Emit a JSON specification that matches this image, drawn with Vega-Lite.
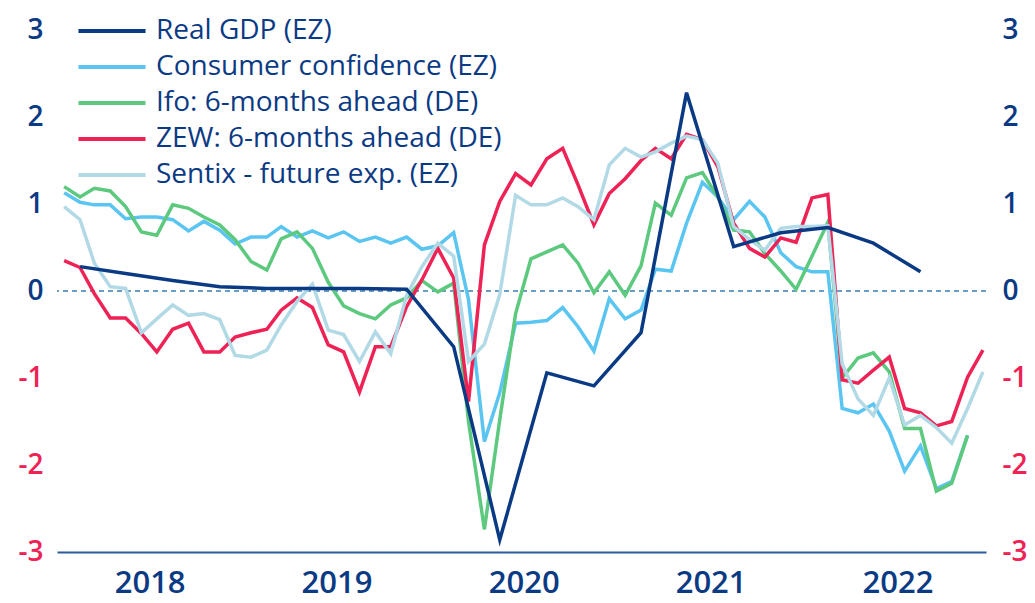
{
  "$schema": "https://vega.github.io/schema/vega-lite/v6.json",
  "width": 929,
  "height": 522,
  "autosize": "none",
  "padding": {"left": 57, "top": 30, "right": 49, "bottom": 51},
  "background": "white",
  "config": {"view": {"stroke": null}, "font": "Open Sans"},
  "data": {"values": [
    {"d": "2018-01-15", "cc": 1.13, "ifo": 1.20, "zew": 0.35, "sentix": 0.97},
    {"d": "2018-02-15", "gdp": 0.28, "cc": 1.02, "ifo": 1.08, "zew": 0.27, "sentix": 0.82},
    {"d": "2018-03-15", "cc": 0.99, "ifo": 1.18, "zew": -0.03, "sentix": 0.32},
    {"d": "2018-04-15", "cc": 0.99, "ifo": 1.15, "zew": -0.31, "sentix": 0.05},
    {"d": "2018-05-15", "gdp": 0.20, "cc": 0.83, "ifo": 0.97, "zew": -0.31, "sentix": 0.03},
    {"d": "2018-06-15", "cc": 0.85, "ifo": 0.68, "zew": -0.49, "sentix": -0.48},
    {"d": "2018-07-15", "cc": 0.85, "ifo": 0.64, "zew": -0.70, "sentix": -0.32},
    {"d": "2018-08-15", "gdp": 0.12, "cc": 0.82, "ifo": 0.99, "zew": -0.44, "sentix": -0.16},
    {"d": "2018-09-15", "cc": 0.69, "ifo": 0.95, "zew": -0.37, "sentix": -0.28},
    {"d": "2018-10-15", "cc": 0.80, "ifo": 0.85, "zew": -0.70, "sentix": -0.26},
    {"d": "2018-11-15", "gdp": 0.05, "cc": 0.70, "ifo": 0.76, "zew": -0.70, "sentix": -0.33},
    {"d": "2018-12-15", "cc": 0.54, "ifo": 0.59, "zew": -0.53, "sentix": -0.74},
    {"d": "2019-01-15", "cc": 0.62, "ifo": 0.34, "zew": -0.48, "sentix": -0.76},
    {"d": "2019-02-15", "gdp": 0.03, "cc": 0.62, "ifo": 0.24, "zew": -0.44, "sentix": -0.68},
    {"d": "2019-03-15", "cc": 0.74, "ifo": 0.60, "zew": -0.22, "sentix": -0.39},
    {"d": "2019-04-15", "cc": 0.62, "ifo": 0.68, "zew": -0.08, "sentix": -0.12},
    {"d": "2019-05-15", "gdp": 0.03, "cc": 0.69, "ifo": 0.49, "zew": -0.19, "sentix": 0.08},
    {"d": "2019-06-15", "cc": 0.61, "ifo": 0.10, "zew": -0.62, "sentix": -0.45},
    {"d": "2019-07-15", "cc": 0.68, "ifo": -0.17, "zew": -0.70, "sentix": -0.50},
    {"d": "2019-08-15", "gdp": 0.03, "cc": 0.57, "ifo": -0.26, "zew": -1.16, "sentix": -0.81},
    {"d": "2019-09-15", "cc": 0.62, "ifo": -0.32, "zew": -0.64, "sentix": -0.47},
    {"d": "2019-10-15", "cc": 0.55, "ifo": -0.16, "zew": -0.64, "sentix": -0.72},
    {"d": "2019-11-15", "gdp": 0.02, "cc": 0.62, "ifo": -0.08, "zew": -0.18, "sentix": -0.05},
    {"d": "2019-12-15", "cc": 0.48, "ifo": 0.12, "zew": 0.13, "sentix": 0.28},
    {"d": "2020-01-15", "cc": 0.52, "ifo": -0.01, "zew": 0.49, "sentix": 0.55},
    {"d": "2020-02-15", "gdp": -0.64, "cc": 0.67, "ifo": 0.09, "zew": 0.15, "sentix": 0.40},
    {"d": "2020-03-15", "cc": -0.10, "ifo": -1.50, "zew": -1.27, "sentix": -0.81},
    {"d": "2020-04-15", "cc": -1.73, "ifo": -2.74, "zew": 0.53, "sentix": -0.61},
    {"d": "2020-05-15", "gdp": -2.86, "cc": -1.17, "ifo": -1.48, "zew": 1.03, "sentix": -0.04},
    {"d": "2020-06-15", "cc": -0.37, "ifo": -0.26, "zew": 1.35, "sentix": 1.10},
    {"d": "2020-07-15", "cc": -0.36, "ifo": 0.37, "zew": 1.22, "sentix": 0.99},
    {"d": "2020-08-15", "gdp": -0.94, "cc": -0.34, "ifo": 0.45, "zew": 1.52, "sentix": 0.99},
    {"d": "2020-09-15", "cc": -0.19, "ifo": 0.53, "zew": 1.64, "sentix": 1.07},
    {"d": "2020-10-15", "cc": -0.41, "ifo": 0.32, "zew": 1.22, "sentix": 0.97},
    {"d": "2020-11-15", "gdp": -1.09, "cc": -0.69, "ifo": -0.02, "zew": 0.76, "sentix": 0.82},
    {"d": "2020-12-15", "cc": -0.09, "ifo": 0.22, "zew": 1.12, "sentix": 1.45},
    {"d": "2021-01-15", "cc": -0.32, "ifo": -0.05, "zew": 1.29, "sentix": 1.64},
    {"d": "2021-02-15", "gdp": -0.48, "cc": -0.22, "ifo": 0.29, "zew": 1.50, "sentix": 1.54},
    {"d": "2021-03-15", "cc": 0.25, "ifo": 1.01, "zew": 1.64, "sentix": 1.60},
    {"d": "2021-04-15", "cc": 0.23, "ifo": 0.87, "zew": 1.52, "sentix": 1.70},
    {"d": "2021-05-15", "gdp": 2.28, "cc": 0.78, "ifo": 1.30, "zew": 1.80, "sentix": 1.78},
    {"d": "2021-06-15", "cc": 1.25, "ifo": 1.36, "zew": 1.74, "sentix": 1.74},
    {"d": "2021-07-15", "cc": 1.08, "ifo": 1.08, "zew": 1.43, "sentix": 1.47},
    {"d": "2021-08-15", "gdp": 0.51, "cc": 0.82, "ifo": 0.70, "zew": 0.78, "sentix": 0.74},
    {"d": "2021-09-15", "cc": 1.03, "ifo": 0.68, "zew": 0.49, "sentix": 0.59},
    {"d": "2021-10-15", "cc": 0.85, "ifo": 0.43, "zew": 0.39, "sentix": 0.47},
    {"d": "2021-11-15", "gdp": 0.67, "cc": 0.44, "ifo": 0.23, "zew": 0.61, "sentix": 0.72},
    {"d": "2021-12-15", "cc": 0.28, "ifo": 0.02, "zew": 0.56, "sentix": 0.74},
    {"d": "2022-01-15", "cc": 0.22, "ifo": 0.40, "zew": 1.07, "sentix": 0.74},
    {"d": "2022-02-15", "gdp": 0.73, "cc": 0.22, "ifo": 0.79, "zew": 1.11, "sentix": 0.75},
    {"d": "2022-03-15", "cc": -1.35, "ifo": -1.00, "zew": -1.02, "sentix": -0.84},
    {"d": "2022-04-15", "cc": -1.40, "ifo": -0.77, "zew": -1.06, "sentix": -1.24},
    {"d": "2022-05-15", "gdp": 0.55, "cc": -1.30, "ifo": -0.71, "zew": -0.91, "sentix": -1.43},
    {"d": "2022-06-15", "cc": -1.61, "ifo": -0.93, "zew": -0.76, "sentix": -1.00},
    {"d": "2022-07-15", "cc": -2.07, "ifo": -1.58, "zew": -1.35, "sentix": -1.54},
    {"d": "2022-08-15", "gdp": 0.22, "cc": -1.78, "ifo": -1.58, "zew": -1.40, "sentix": -1.43},
    {"d": "2022-09-15", "cc": -2.27, "ifo": -2.30, "zew": -1.55, "sentix": -1.57},
    {"d": "2022-10-15", "cc": -2.19, "ifo": -2.21, "zew": -1.50, "sentix": -1.75},
    {"d": "2022-11-15", "cc": -1.66, "ifo": -1.66, "zew": -0.99, "sentix": -1.35},
    {"d": "2022-12-15", "zew": -0.68, "sentix": -0.93}
  ]},
  "layer": [
    {
      "data": {"values": [{"z": 0}]},
      "mark": {"type": "rule", "color": "#3A7DB0", "strokeWidth": 1.5, "strokeDash": [5, 4]},
      "encoding": {
        "y": {
          "field": "z", "type": "quantitative",
          "scale": {"domain": [-3, 3], "nice": false, "zero": false},
          "axis": {
            "orient": "right", "title": null, "values": [-3, -2, -1, 0, 1, 2, 3],
            "domain": false, "ticks": false, "grid": false,
            "labelPadding": 16, "labelFontSize": 28, "labelFontWeight": 600, "labelFont": "Open Sans",
            "labelFlush": false, "labelOverlap": false,
            "labelExpr": "datum.value < 0 ? '-' + abs(datum.value) : '' + datum.value",
            "labelColor": {"condition": {"test": "datum.value < 0", "value": "#EE2255"}, "value": "#0B3A84"}
          }
        }
      }
    },
    {
      "transform": [
        {"fold": ["gdp", "cc", "ifo", "zew", "sentix"], "as": ["series", "value"]},
        {"filter": "isValid(datum.value) && isFinite(datum.value)"}
      ],
      "mark": {"type": "line", "strokeWidth": 3.5, "invalid": "filter"},
      "encoding": {
        "x": {
          "field": "d", "type": "temporal",
          "scale": {"type": "utc", "domain": [{"year": 2018, "month": 1, "date": 1, "utc": true}, {"year": 2022, "month": 12, "date": 21, "utc": true}]},
          "axis": {
            "title": null,
            "labelExpr": "utcFormat(datum.value, '%Y')",
            "values": [
              {"year": 2018, "month": 7, "date": 1, "utc": true},
              {"year": 2019, "month": 7, "date": 1, "utc": true},
              {"year": 2020, "month": 7, "date": 1, "utc": true},
              {"year": 2021, "month": 7, "date": 1, "utc": true},
              {"year": 2022, "month": 7, "date": 1, "utc": true}
            ],
            "ticks": false, "grid": false, "domainColor": "#2A5DA0", "domainWidth": 2,
            "labelFontSize": 31, "labelFontWeight": 600, "labelColor": "#0B3A84", "labelFont": "Open Sans",
            "labelPadding": 16, "labelFlush": false, "labelOverlap": false
          }
        },
        "y": {
          "field": "value", "type": "quantitative",
          "scale": {"domain": [-3, 3], "nice": false, "zero": false},
          "axis": {
            "orient": "left", "title": null, "values": [-3, -2, -1, 0, 1, 2, 3],
            "domain": false, "ticks": false, "grid": false,
            "labelPadding": 14, "labelFontSize": 28, "labelFontWeight": 600, "labelFont": "Open Sans",
            "labelFlush": false, "labelOverlap": false,
            "labelExpr": "datum.value < 0 ? '-' + abs(datum.value) : '' + datum.value",
            "labelColor": {"condition": {"test": "datum.value < 0", "value": "#EE2255"}, "value": "#0B3A84"}
          }
        },
        "color": {
          "field": "series", "type": "nominal",
          "scale": {"domain": ["gdp", "cc", "ifo", "zew", "sentix"], "range": ["#0B3A84", "#5BC5F2", "#5CC97E", "#EE2255", "#B2D9E6"]},
          "legend": {
            "title": null, "orient": "none", "legendX": 20, "legendY": -13, "padding": 0,
            "symbolType": "M-5,0H5", "symbolSize": 180, "symbolStrokeWidth": 4, "symbolOffset": 21,
            "labelOffset": 30, "labelFontSize": 28, "labelFont": "Open Sans", "labelColor": "#0B3A84", "labelLimit": 0,
            "rowPadding": 8,
            "labelExpr": "datum.value=='gdp'?'Real GDP (EZ)':datum.value=='cc'?'Consumer confidence (EZ)':datum.value=='ifo'?'Ifo: 6-months ahead (DE)':datum.value=='zew'?'ZEW: 6-months ahead (DE)':'Sentix - future exp. (EZ)'"
          }
        }
      }
    }
  ],
  "resolve": {"scale": {"y": "independent"}}
}
